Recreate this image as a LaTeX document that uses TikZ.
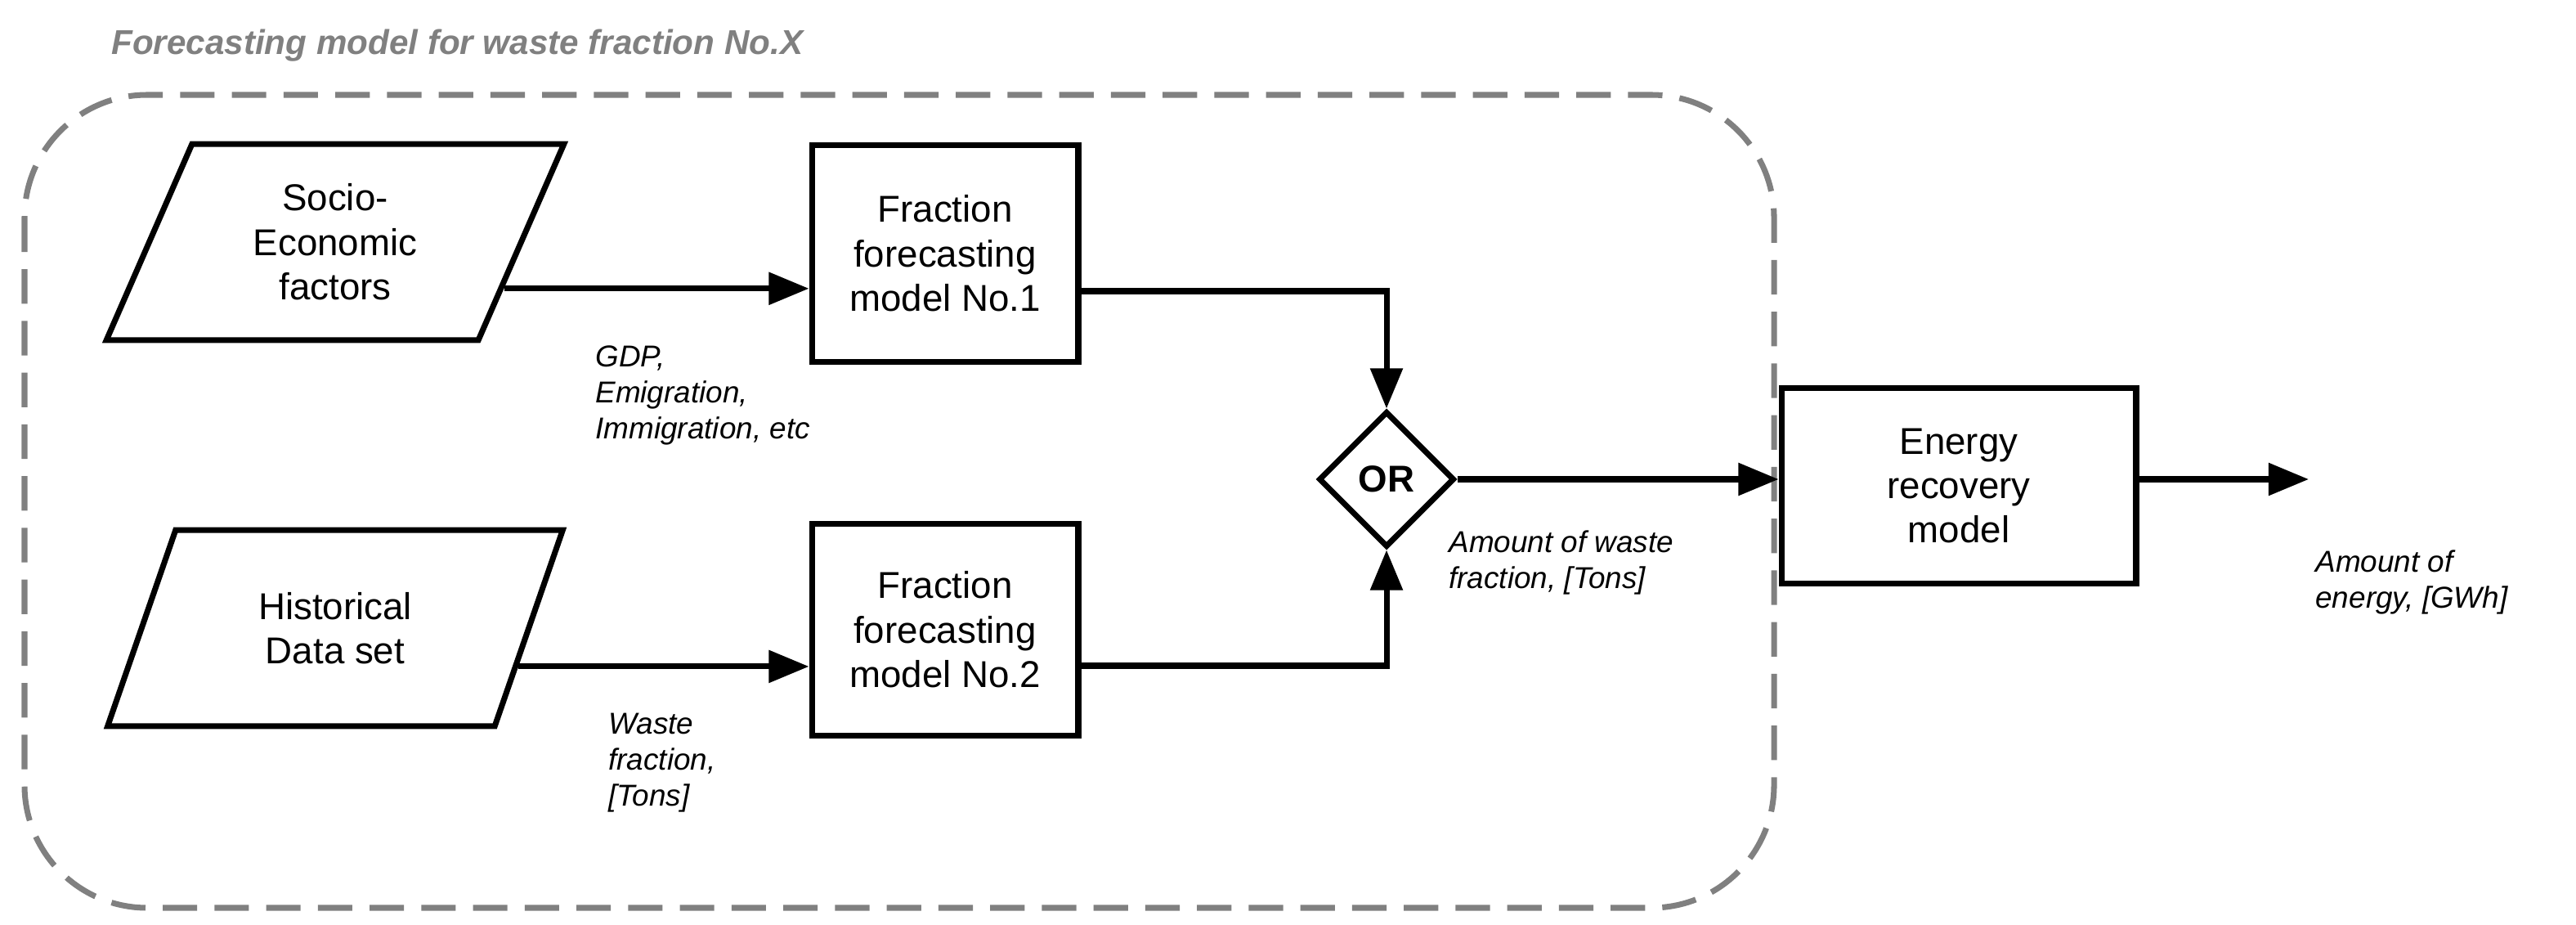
\documentclass[tikz,border=0pt]{standalone}
\usepackage{fontspec}
\setmainfont{Liberation Sans}
\usetikzlibrary{arrows.meta,shapes.geometric,calc}
\begin{document}
\begin{tikzpicture}[x=0.02cm,y=-0.02cm,
  blk/.style={draw,line width=2pt,minimum width=3.26cm,minimum height=2.66cm,align=center,font=\fontsize{13}{15.5}\selectfont},
  para/.style={draw,line width=2pt,trapezium,trapezium left angle=68,trapezium right angle=112,minimum width=5.6cm,minimum height=2.4cm,align=center,trapezium stretches=true,font=\fontsize{13}{15.5}\selectfont},
  con/.style={line width=2pt,-{Triangle[length=14pt,width=11pt]}},
  lbl/.style={align=left,font=\fontsize{10.5}{12.5}\selectfont\itshape,anchor=north west}]
\useasboundingbox (0,0) rectangle (1575.5,565.5);
\node[font=\fontsize{12}{14}\selectfont\bfseries\itshape,text=gray,anchor=west] (title) at (62,28) {Forecasting model for waste fraction No.X};
\draw[gray,line width=2pt,dash pattern=on 12pt off 6pt,rounded corners=1.5cm] (15,58) rectangle (1085,555);
\node[para] (se) at (205,148) {Socio-\\Economic\\factors};
\node[para] (hd) at (205,384) {Historical\\Data set};
\node[blk] (f1) at (578,155) {Fraction\\forecasting\\model No.1};
\node[blk,minimum height=2.6cm] (f2) at (578,385) {Fraction\\forecasting\\model No.2};
\node[draw,line width=2pt,diamond,minimum width=1.66cm,minimum height=1.66cm,inner sep=0pt,font=\fontsize{13}{15}\selectfont\bfseries] (or) at (848,293) {OR};
\node[blk,minimum width=4.34cm,minimum height=2.4cm] (en) at (1198,297) {Energy\\recovery\\model};
\coordinate (out) at (1412,293);
\coordinate (s1) at ($(se.top right corner)!0.73!(se.bottom right corner)$);
\coordinate (s2) at ($(hd.top right corner)!0.69!(hd.bottom right corner)$);
\draw[con] (s1) -- (f1.west |- s1);
\draw[con] (s2) -- (f2.west |- s2);
\draw[con] (f1.east |- 0,178) -| (or.north);
\draw[con] (f2.east |- 0,407) -| (or.south);
\draw[con] (or.east) -- (or.east -| en.west);
\draw[con] (en.east |- out) -- (out);
\node[lbl] (l1) at (358,205) {GDP,\\Emigration,\\Immigration, etc};
\node[lbl] (l2) at (366,430) {Waste\\fraction,\\{[Tons]}};
\node[lbl] (l3) at (880,318) {Amount of waste\\fraction, [Tons]};
\node[lbl] (l4) at (1410,330) {Amount of\\energy, [GWh]};
\end{tikzpicture}
\end{document}
